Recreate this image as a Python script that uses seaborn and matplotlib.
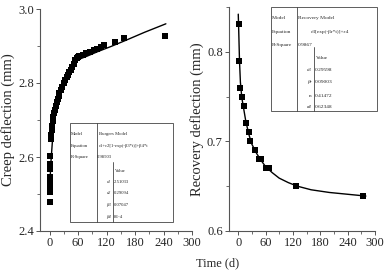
import numpy as np
import pandas as pd
import matplotlib
matplotlib.use("Agg")
import matplotlib.pyplot as plt
import seaborn as sns
from matplotlib.lines import Line2D
from matplotlib.patches import Rectangle
from matplotlib.ticker import MultipleLocator

# --- Datos: fluencia (creep) ---
creep_t = [1, 1, 1, 1, 1, 1, 1, 1, 1, 3, 4, 5, 6, 7, 8, 9, 11, 13, 15, 17, 19, 21,
           24, 27, 30, 33, 36, 39, 42, 45, 48, 51, 54, 57, 60, 63, 70, 77, 86, 93,
           100, 108, 115, 138, 157, 244]
creep_v = [2.478, 2.505, 2.515, 2.525, 2.535, 2.546, 2.568, 2.580, 2.603, 2.650,
           2.660, 2.672, 2.685, 2.697, 2.708, 2.718, 2.728, 2.738, 2.748, 2.757,
           2.765, 2.773, 2.781, 2.790, 2.800, 2.808, 2.815, 2.822, 2.829, 2.836,
           2.843, 2.852, 2.862, 2.868, 2.871, 2.873, 2.875, 2.881, 2.883, 2.888,
           2.892, 2.896, 2.903, 2.911, 2.922, 2.928]
creep_fit_t = [0, 1, 2, 3, 4, 6, 9, 13, 18, 25, 33, 42, 50, 58, 66, 80, 100, 130,
               160, 200, 245]
creep_fit_v = [2.51, 2.535, 2.56, 2.585, 2.605, 2.64, 2.68, 2.72, 2.75, 2.78, 2.81,
               2.835, 2.85, 2.86, 2.866, 2.873, 2.884, 2.899, 2.915, 2.937, 2.96]

# --- Datos: recuperación ---
rec_t = [1, 3, 5, 8, 12, 17, 23, 26, 38, 46, 51, 62, 68, 126, 273]
rec_v = [0.831, 0.790, 0.760, 0.750, 0.740, 0.720, 0.710, 0.700, 0.690, 0.680,
         0.680, 0.670, 0.670, 0.650, 0.639]
rec_fit_t = [0.3, 1, 3, 5, 8, 12, 17, 24, 30, 40, 50, 60, 75, 90, 110, 130, 160,
             200, 240, 280]
rec_fit_v = [0.842, 0.830, 0.790, 0.766, 0.749, 0.737, 0.722, 0.707, 0.697, 0.687,
             0.679, 0.672, 0.665, 0.659, 0.654, 0.650, 0.646, 0.643, 0.641, 0.639]

burgers_rows = [("ε1", "2.51033"), ("ε2", "0.29094"), ("β3", "0.07047"), ("β4", "8E-4")]
recovery_rows = [("ε3", "0.29598"), ("βr", "0.09003"), ("n", "0.41472"), ("ε4", "0.62348")]

# --- Estilo ---
sns.set_style("ticks")
plt.rcParams["font.family"] = ["Liberation Serif", "DejaVu Serif"]
plt.rcParams["mathtext.fontset"] = "stix"

W, H = 387, 272
fig = plt.figure(figsize=(W / 100, H / 100), dpi=100)


def fx(x):
    return x / W


def fy(y):
    return 1 - y / H


ax1 = fig.add_axes([fx(40), fy(231), fx(192) - fx(40), fy(9) - fy(231)])
ax2 = fig.add_axes([fx(229), fy(231), fx(375) - fx(229), fy(7) - fy(231)])

df_c = pd.DataFrame({"t": creep_t, "v": creep_v})
df_cf = pd.DataFrame({"t": creep_fit_t, "v": creep_fit_v})
df_r = pd.DataFrame({"t": rec_t, "v": rec_v})
df_rf = pd.DataFrame({"t": rec_fit_t, "v": rec_fit_v})

for ax, pts, fit in [(ax1, df_c, df_cf), (ax2, df_r, df_rf)]:
    sns.lineplot(data=fit, x="t", y="v", ax=ax, color="black", lw=1.0,
                 sort=False, estimator=None)
    sns.scatterplot(data=pts, x="t", y="v", ax=ax, marker="s", s=16,
                    color="black", edgecolor="black", linewidth=0, zorder=3)
    ax.set_xlim(-20, 300)
    ax.xaxis.set_major_locator(MultipleLocator(60))
    ax.xaxis.set_minor_locator(MultipleLocator(30))
    ax.set_xlabel("")
    for side in ["top", "right"]:
        ax.spines[side].set_visible(False)
    for side in ["left", "bottom"]:
        ax.spines[side].set_color("#555555")
        ax.spines[side].set_linewidth(0.8)
    ax.tick_params(which="major", direction="out", length=3, width=0.7,
                   color="#555555", labelsize=9, pad=1.5)
    ax.tick_params(which="minor", direction="out", length=2, width=0.6,
                   color="#555555")

ax1.set_ylim(2.4, 3.0)
ax1.yaxis.set_major_locator(MultipleLocator(0.2))
ax1.yaxis.set_minor_locator(MultipleLocator(0.1))
ax1.yaxis.set_major_formatter(matplotlib.ticker.FormatStrFormatter("%.1f"))
ax1.set_ylabel("Creep deflection (mm)", fontsize=10.5, labelpad=2)

ax2.set_ylim(0.6, 0.85)
ax2.yaxis.set_major_locator(MultipleLocator(0.1))
ax2.yaxis.set_minor_locator(MultipleLocator(0.05))
ax2.yaxis.set_major_formatter(matplotlib.ticker.FormatStrFormatter("%.1f"))
ax2.set_ylabel("Recovery deflection (mm)", fontsize=10.5, labelpad=2)

fig.text(fx(218), fy(263), "Time (d)", ha="center", va="center", fontsize=9)


# --- Tablas de ajuste ---
def box(x0, x1, y0, y1, vx1, vx2, vy2):
    fig.add_artist(Rectangle((fx(x0), fy(y1)), fx(x1) - fx(x0), fy(y0) - fy(y1),
                             transform=fig.transFigure, fill=False,
                             edgecolor="#444444", lw=0.6))
    fig.add_artist(Line2D([fx(vx1), fx(vx1)], [fy(y0), fy(y1)],
                          transform=fig.transFigure, color="#444444", lw=0.6))
    fig.add_artist(Line2D([fx(vx2), fx(vx2)], [fy(vy2), fy(y1)],
                          transform=fig.transFigure, color="#444444", lw=0.6))


def txt(x, y, s, fs, ha="left", italic=False):
    fig.text(fx(x), fy(y), s, fontsize=fs, ha=ha, va="center",
             style="italic" if italic else "normal")


fs1 = 3.4
box(70, 173, 123, 222, 97, 113, 162)
txt(71, 134, "Model", fs1)
txt(98.5, 134, "Burgers Model", fs1)
txt(71, 146, "Equation", fs1)
txt(99, 146, "ε1+ε2[1-exp(-β3*t)]+β4*t", fs1)
txt(71, 157, "R-Square", fs1)
txt(97, 157, "0.98503", fs1)
txt(115, 171, "Value", fs1)
for (name, val), yy in zip(burgers_rows, [182, 193, 205, 217]):
    txt(111, yy, name, fs1, ha="right", italic=True)
    txt(114, yy, val, fs1)

fs2 = 3.9
box(271, 377, 7, 111, 297, 314, 47)
txt(272, 18, "Model", fs2)
txt(298, 18, "Recovery Model", fs2)
txt(272, 32, "Equation", fs2)
txt(311, 32, "ε3[exp(-βr*t)]+ε4", fs2)
txt(272, 45, "R-Square", fs2)
txt(297.5, 45, "0.9867", fs2)
txt(316, 58, "Value", fs2)
for (name, val), yy in zip(recovery_rows, [70, 82, 96, 107]):
    txt(312, yy, name, fs2, ha="right", italic=(name != "n"))
    txt(315, yy, val, fs2)

plt.savefig("out.png", dpi=100)
